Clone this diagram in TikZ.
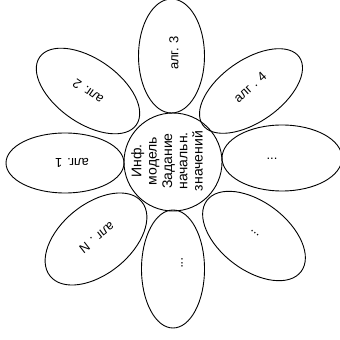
\documentclass[tikz,border=0pt]{standalone}
\usepackage{fontspec}
\setmainfont{Liberation Sans}
\usetikzlibrary{shapes.geometric}
\begin{document}
\begin{tikzpicture}[x=1pt,y=1pt,
  petal/.style={draw, ellipse, line width=0.9pt, inner sep=0pt, minimum width=118pt, minimum height=64pt},
  lbl/.style={font=\fontsize{13}{15}\selectfont, inner sep=0pt},
  hub/.style={draw, circle, line width=0.9pt, minimum size=98pt, inner sep=0pt},
  hubtext/.style={font=\fontsize{14}{15.3}\selectfont, inner sep=0pt, align=center}]
\useasboundingbox (0,0) rectangle (340,340);
% petals
\node[petal, rotate=90, minimum width=114pt, minimum height=66pt] (p3) at (171.5,284) {};
\node[petal, rotate=90, minimum width=118pt, minimum height=63pt] (pb) at (173,71) {};
\node[petal, minimum width=118pt, minimum height=60pt] (p1) at (65,177) {};
\node[petal, minimum width=120pt, minimum height=66pt] (pr) at (282,182) {};
\node[petal, rotate=-35] (p2) at (88,249) {};
\node[petal, rotate=35, minimum height=62pt] (p4) at (251,249) {};
\node[petal, rotate=-37, minimum height=68pt] (plr) at (254,104) {};
\node[petal, rotate=39, minimum height=70pt] (pN) at (96,101) {};
% hub
\node[hub] (hub) at (173,178) {};
\node[hubtext, rotate=90] (hubt) at (167,179) {Инф.\\модель\\Задание\\начальн.\\значений};
% labels
\node[lbl, rotate=90] (t3) at (174,287) {алг. 3};
\node[lbl, rotate=42] (t4) at (250,253) {алг . 4};
\node[lbl, rotate=145] (t2) at (88,248) {алг. 2};
\node[lbl, rotate=180] (t1) at (72,177) {алг. 1};
\node[lbl, rotate=218] (tN) at (97,102) {алг . N};
\node[lbl] (tr) at (272,181) {...};
\node[lbl, rotate=-39] (tlr) at (255,107) {...};
\node[lbl, rotate=-90] (tb) at (182,77) {...};
\end{tikzpicture}
\end{document}
